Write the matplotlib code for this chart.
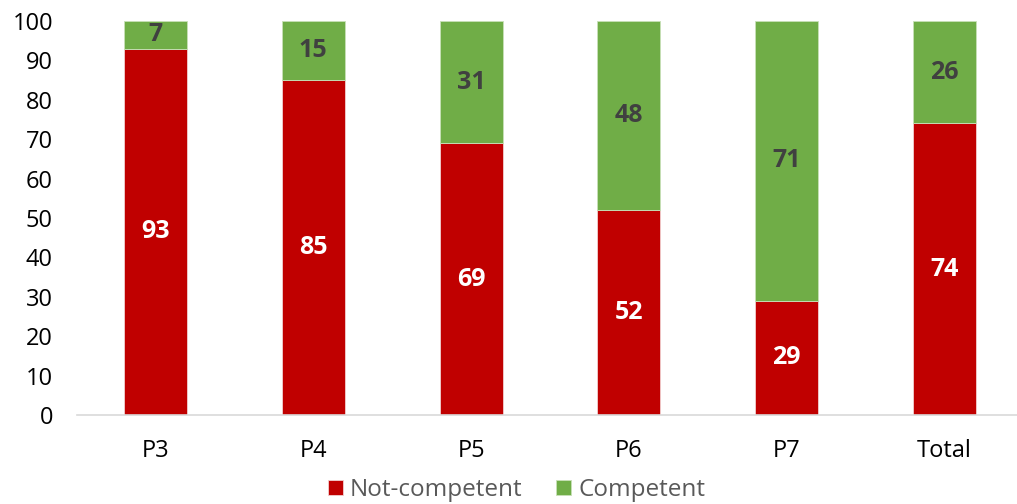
import numpy as np
import matplotlib.pyplot as plt

categories = ["P3", "P4", "P5", "P6", "P7", "Total"]
not_competent = [93, 85, 69, 52, 29, 74]
competent = [7, 15, 31, 48, 71, 26]

red = "#C00000"
green = "#70AD47"

plt.rcParams['font.family'] = ['Open Sans', 'DejaVu Sans']

fig = plt.figure(figsize=(10.17, 5.04), dpi=100)
ax = fig.add_axes([0.0753, 0.1766, 0.931, 0.7817])

x = np.arange(len(categories))
b1 = ax.bar(x, not_competent, width=0.4, color=red, edgecolor="#f2d0d0",
            linewidth=0.6, label="Not-competent")
b2 = ax.bar(x, competent, width=0.4, bottom=not_competent, color=green,
            edgecolor="#c8e0b8", linewidth=0.6, label="Competent")

for i in range(len(categories)):
    ax.text(x[i], not_competent[i] / 2, str(not_competent[i]), ha="center",
            va="center", color="white", fontsize=18, fontweight="bold")
    ax.text(x[i], not_competent[i] + competent[i] / 2, str(competent[i]),
            ha="center", va="center", color="#404040", fontsize=18,
            fontweight="bold")

ax.set_xlim(-0.5, len(categories) - 0.5)
ax.set_ylim(0, 100)
ax.set_yticks(range(0, 101, 10))
ax.set_xticks(x)
ax.set_xticklabels(categories)
ax.tick_params(axis="both", length=0, labelsize=17, colors="black")
ax.tick_params(axis="x", pad=17)
ax.tick_params(axis="y", pad=17)

for s in ["top", "right", "left"]:
    ax.spines[s].set_visible(False)
ax.spines["bottom"].set_color("#d9d9d9")
ax.spines["bottom"].set_linewidth(1.2)

leg = fig.legend(handles=[b1, b2], loc="lower center", ncol=2, frameon=False,
                 bbox_to_anchor=(0.508, -0.04), fontsize=17.5, handlelength=0.6,
                 handleheight=0.6, handletextpad=0.3, columnspacing=1.4)
for t in leg.get_texts():
    t.set_color("#595959")

fig.savefig("out.png", dpi=100)
